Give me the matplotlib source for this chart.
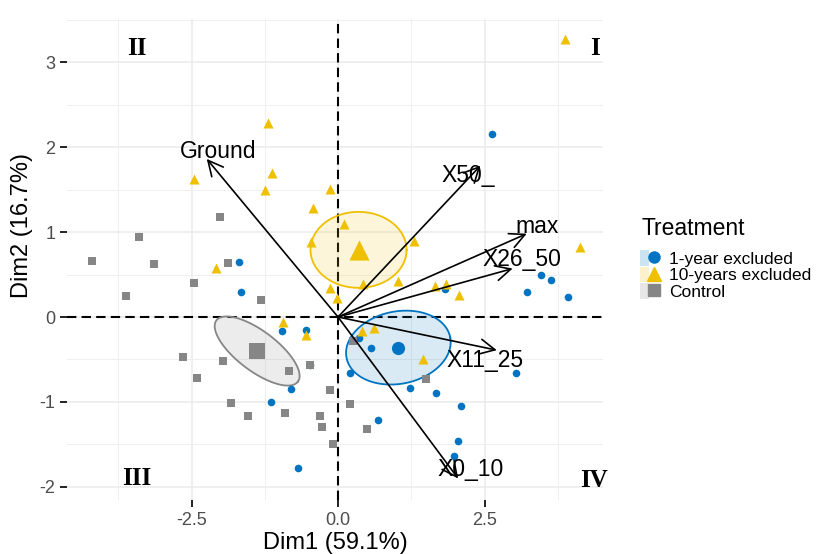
import numpy as np
import matplotlib
matplotlib.use("Agg")
from matplotlib import pyplot as plt
from matplotlib.patches import Patch, Polygon
from matplotlib.lines import Line2D
from matplotlib.legend_handler import HandlerTuple

plt.rcParams['font.family'] = ['Liberation Sans', 'DejaVu Sans']
plt.rcParams['axes.unicode_minus'] = False

# individuals (Dim1, Dim2) per treatment
year1_x = [-1.69, -1.66, 2.63, 3.46, 3.63, 3.23, 3.92, 1.83, -0.96, -0.55, -0.48, -0.81,
           -1.15, -0.68, 0.36, 0.56, 0.20, 1.22, 1.68, 2.10, 0.68, 2.05, 1.98, 3.04]
year1_y = [0.65, 0.29, 2.15, 0.49, 0.44, 0.29, 0.24, 0.33, -0.17, -0.15, -0.56, -0.85,
           -1.00, -1.78, -0.25, -0.36, -0.66, -0.84, -0.89, -1.05, -1.21, -1.46, -1.64, -0.66]

year10_x = [3.88, 4.13, -1.19, -2.45, -1.13, -1.25, -0.13, -0.43, -2.08, 0.10, -0.46, 1.30,
            0.43, 1.03, 1.66, 1.85, 2.06, -0.13, -0.01, -0.94, -0.55, 0.41, 0.61, 1.45]
year10_y = [3.27, 0.82, 2.28, 1.62, 1.69, 1.49, 1.51, 1.28, 0.58, 1.10, 0.88, 0.89,
            0.39, 0.42, 0.36, 0.39, 0.26, 0.34, 0.22, -0.06, -0.21, -0.16, -0.13, -0.49]

control_x = [-2.01, -3.40, -4.20, -3.14, -1.88, -3.61, -2.45, -1.32, -2.64, -1.97, -2.40, -1.82,
             -1.53, -0.90, -0.83, -0.48, -0.14, -0.31, -0.28, -0.08, 1.50, 0.20, 0.49, 0.26]
control_y = [1.18, 0.94, 0.66, 0.62, 0.64, 0.25, 0.40, 0.20, -0.47, -0.52, -0.72, -1.01,
             -1.16, -1.13, -0.64, -0.56, -0.86, -1.17, -1.30, -1.50, -0.73, -1.02, -1.32, -0.28]

groups = ["1-year excluded", "10-years excluded", "Control"]
group_x = [year1_x, year10_x, control_x]
group_y = [year1_y, year10_y, control_y]
colors = ["#0073C2", "#EFC000", "#868686"]
markers = ["o", "^", "s"]

# group means and confidence ellipse half-axis vectors
mean_x = [1.03, 0.35, -1.38]
mean_y = [-0.36, 0.79, -0.40]
ell_major = [(0.885, 0.120), (0.82, 0.0), (0.695, -0.361)]
ell_minor = [(-0.118, 0.418), (0.0, 0.447), (0.205, 0.188)]

# variables
var_names = ["Ground", "X50_", "max", "X26_50", "X11_25", "X0_10"]
var_x = [-2.24, 2.43, 3.22, 2.98, 2.71, 2.05]
var_y = [1.86, 1.78, 0.98, 0.57, -0.39, -1.90]
lab_x = [-2.05, 2.23, 3.40, 3.14, 2.51, 2.27]
lab_y = [1.95, 1.66, 1.07, 0.68, -0.51, -1.80]

quadrants = ["I", "II", "III", "IV"]
quad_x = [4.39, -3.44, -3.44, 4.36]
quad_y = [3.16, 3.16, -1.90, -1.92]

fig = plt.figure(figsize=(8.24, 5.54), dpi=100)
ax = fig.add_axes([67/824, 1-500/554, 536/824, 481/554])

ax.set_xlim(-4.625, 4.522)
ax.set_ylim(-2.153, 3.506)
ax.set_xticks([-2.5, 0, 2.5])
ax.set_xticklabels(["-2.5", "0.0", "2.5"])
ax.set_yticks([-2, -1, 0, 1, 2, 3])
ax.set_xticks([-3.75, -1.25, 1.25, 3.75], minor=True)
ax.set_yticks([-1.5, -0.5, 0.5, 1.5, 2.5, 3.5], minor=True)
ax.grid(True, which='major', color='#EBEBEB', lw=1.1)
ax.grid(True, which='minor', color='#EFEFEF', lw=0.7)
ax.set_axisbelow(True)
for s in ax.spines.values():
    s.set_visible(False)
ax.tick_params(which='major', length=5, width=1.4, color='#222222',
               labelsize=13, labelcolor='#4D4D4D', pad=3.5)
ax.tick_params(which='minor', length=0)

ax.axhline(0, color='black', lw=1.5, dashes=(4.5, 2.5), zorder=1)
ax.axvline(0, color='black', lw=1.5, dashes=(4.5, 2.5), zorder=1)

t = np.linspace(0, 2*np.pi, 200)
for i in range(3):
    mj, mn = ell_major[i], ell_minor[i]
    ex = mean_x[i] + mj[0]*np.cos(t) + mn[0]*np.sin(t)
    ey = mean_y[i] + mj[1]*np.cos(t) + mn[1]*np.sin(t)
    ax.add_patch(Polygon(np.column_stack([ex, ey]), closed=True,
                         facecolor=colors[i], alpha=0.15, edgecolor='none', zorder=2))
    ax.plot(ex, ey, color=colors[i], lw=1.3, zorder=2)

sizes = [30, 52, 34]
for i in range(3):
    ax.scatter(group_x[i], group_y[i], s=sizes[i], marker=markers[i],
               color=colors[i], linewidths=0, zorder=3)
big = [90, 210, 120]
for i in range(3):
    ax.scatter(mean_x[i], mean_y[i], s=big[i], marker=markers[i],
               color=colors[i], linewidths=0, zorder=3)

for i in range(len(var_names)):
    ax.annotate("", xy=(var_x[i], var_y[i]), xytext=(0, 0),
                arrowprops=dict(arrowstyle='->,head_length=0.6,head_width=0.3',
                                color='black', lw=1.2, shrinkA=0, shrinkB=0,
                                mutation_scale=18), zorder=4)
    ax.text(lab_x[i], lab_y[i], var_names[i], fontsize=16.5, ha='center',
            va='center', color='black', zorder=5)

for i in range(4):
    ax.text(quad_x[i], quad_y[i], quadrants[i], fontsize=18, fontweight='bold',
            family='Liberation Serif', ha='center', va='center', zorder=5)

ax.set_xlabel("Dim1 (59.1%)", fontsize=17)
ax.set_ylabel("Dim2 (16.7%)", fontsize=17)
ax.xaxis.set_label_coords(0.5, -0.089)
ax.xaxis.label.set_verticalalignment('center')
ax.yaxis.set_label_coords(-0.0845, 0.57)
ax.yaxis.label.set_verticalalignment('center')

# legend: title as separate text so the gap below it matches
fig.text(641/824, 1-228/554, "Treatment", fontsize=16.5, ha='left', va='center')
handles = []
for i in range(3):
    bg = Patch(facecolor=colors[i], alpha=0.2, edgecolor='none')
    mk = Line2D([], [], marker=markers[i], color=colors[i], ls='none',
                markersize=[8, 9.5, 8][i])
    handles.append((bg, mk))
leg = fig.legend(handles, groups, handler_map={tuple: HandlerTuple(ndivide=None)},
                 loc='upper left', bbox_to_anchor=(640/824, 1-250/554),
                 frameon=False, fontsize=12.5, handlelength=1.05, handleheight=1.0,
                 handletextpad=0.6, labelspacing=0.0, borderpad=0, borderaxespad=0)

fig.savefig("out.png", dpi=100)
